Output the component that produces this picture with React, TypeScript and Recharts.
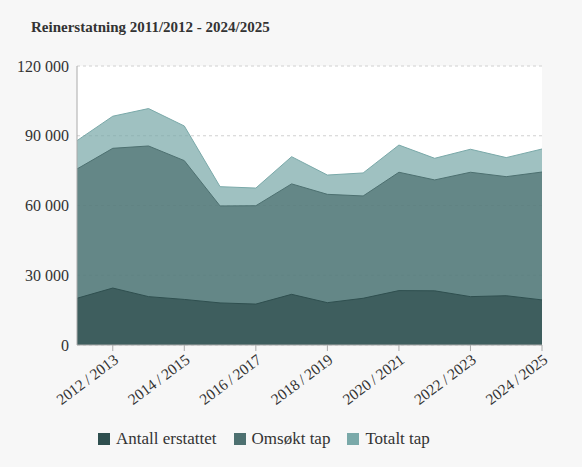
import { Area, AreaChart, CartesianGrid, Legend, XAxis, YAxis } from 'recharts'

const seasons = [
  '2011/2012', '2012/2013', '2013/2014', '2014/2015', '2015/2016', '2016/2017', '2017/2018',
  '2018/2019', '2019/2020', '2020/2021', '2021/2022', '2022/2023', '2023/2024', '2024/2025'
]
const antallErstattet = [20100, 24500, 20800, 19600, 18100, 17600, 21800, 18200, 20100, 23400, 23300, 20800, 21200, 19400]
const omsoktTap = [75700, 84600, 85600, 79300, 59800, 59900, 69300, 64800, 64100, 74300, 71000, 74300, 72400, 74400]
const totaltTap = [87900, 98400, 101700, 94200, 68100, 67500, 81000, 73100, 74000, 86000, 80300, 84200, 80600, 84300]
const xTicks = ['2012/2013', '2014/2015', '2016/2017', '2018/2019', '2020/2021', '2022/2023', '2024/2025']
const yTicks = [0, 30000, 60000, 90000, 120000]

const data = seasons.map((season, i) => ({
  season,
  antall: antallErstattet[i],
  omsokt: omsoktTap[i],
  totalt: totaltTap[i]
}))

const FONT = '"Liberation Serif", serif'

const legendItems = [
  { label: 'Antall erstattet', color: '#2f4f4f' },
  { label: 'Omsøkt tap', color: '#4d7070' },
  { label: 'Totalt tap', color: '#7aa9a9' }
]

function ChartLegend() {
  return (
    <div style={{ display: 'flex', paddingLeft: 98, fontFamily: FONT, fontSize: 17, color: '#333' }}>
      {legendItems.map(item => (
        <span key={item.label} style={{ display: 'flex', alignItems: 'center', marginRight: 17 }}>
          <span style={{ width: 12, height: 12, background: item.color, marginRight: 6, display: 'inline-block' }} />
          {item.label}
        </span>
      ))}
    </div>
  )
}

const formatThousands = (v: number) => (v === 0 ? '0' : `${Math.floor(v / 1000)} 000`)
const formatSeason = (s: string) => s.replace('/', '\u2009/\u2009')

export default function App() {
  return (
    <div style={{ position: 'absolute', left: 0, top: 0, width: 582, height: 467, background: '#f7f7f7' }}>
      <div
        style={{
          position: 'absolute',
          left: 31,
          top: 19,
          fontFamily: FONT,
          fontWeight: 'bold',
          fontSize: 15,
          color: '#333'
        }}
      >
        Reinerstatning 2011/2012 - 2024/2025
      </div>
      <AreaChart
        width={582}
        height={467}
        data={data}
        margin={{ top: 66, right: 40, left: 0, bottom: 0 }}
      >
        <CartesianGrid vertical={false} stroke="#d0d0d0" strokeDasharray="3 3" fill="#fff" />
        <XAxis
          dataKey="season"
          ticks={xTicks}
          interval={0}
          height={102}
          angle={-37}
          textAnchor="end"
          stroke="#aaa"
          tickSize={6}
          tickFormatter={formatSeason}
          tick={{ fill: '#333', fontSize: 15.5, fontFamily: FONT }}
        />
        <YAxis
          width={77}
          domain={[0, 120000]}
          ticks={yTicks}
          tickLine={false}
          stroke="#aaa"
          tickFormatter={formatThousands}
          tick={{ fill: '#333', fontSize: 16, fontFamily: FONT }}
        />
        <Area
          type="linear"
          dataKey="totalt"
          name="Totalt tap"
          stroke="#7aa9a9"
          fill="#7aa9a9"
          fillOpacity={0.72}
          isAnimationActive={false}
        />
        <Area
          type="linear"
          dataKey="omsokt"
          name="Omsøkt tap"
          stroke="#4d7070"
          fill="#4d7070"
          fillOpacity={0.72}
          isAnimationActive={false}
        />
        <Area
          type="linear"
          dataKey="antall"
          name="Antall erstattet"
          stroke="#2f4f4f"
          fill="#2f4f4f"
          fillOpacity={0.72}
          isAnimationActive={false}
        />
        <Legend content={<ChartLegend />} wrapperStyle={{ top: 429, left: 0, width: 582 }} />
      </AreaChart>
    </div>
  )
}
